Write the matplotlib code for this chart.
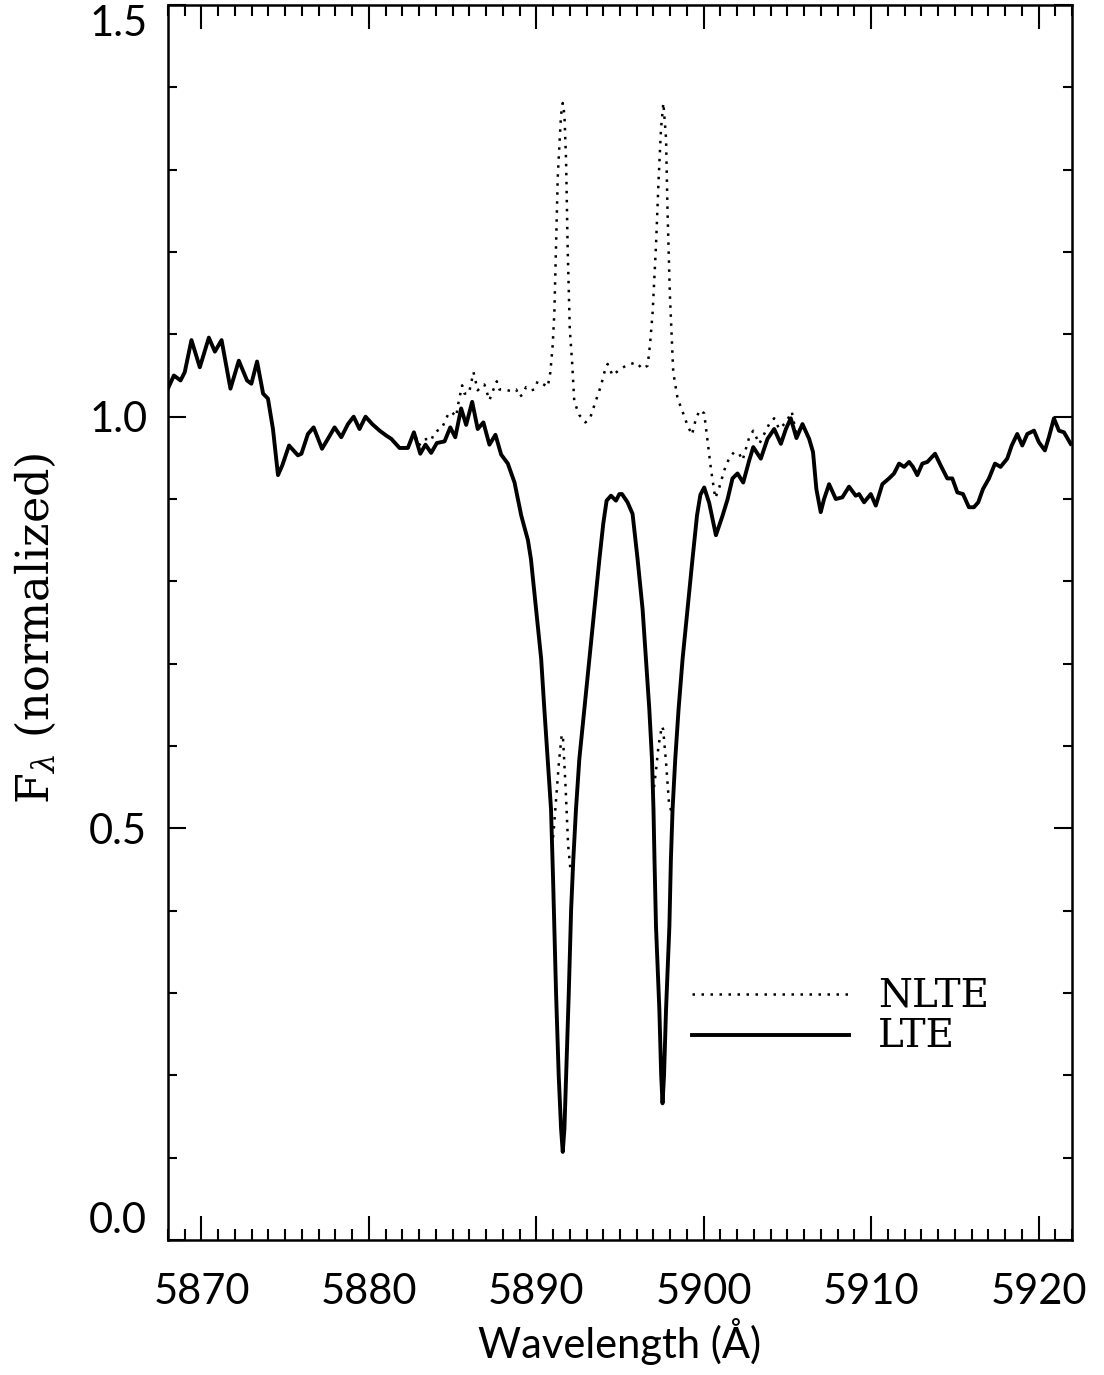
import numpy as np
import matplotlib
matplotlib.use("Agg")
import matplotlib.pyplot as plt
from matplotlib.ticker import MultipleLocator

# =============================================================================
# Data (wavelength in Angstrom, normalized flux)
# =============================================================================
lte_wave = [
    5867.95, 5868.35, 5868.75, 5869.0, 5869.4, 5869.9, 5870.44, 5870.8, 5871.2,
    5871.73, 5872.23, 5872.72, 5872.98, 5873.32, 5873.68, 5873.97, 5874.27,
    5874.57, 5874.83, 5875.23, 5875.76, 5875.97, 5876.36, 5876.7, 5877.2,
    5877.55, 5877.95, 5878.35, 5878.75, 5879.09, 5879.44, 5879.8, 5880.2,
    5880.64, 5881.04, 5881.34, 5881.83, 5882.33, 5882.69, 5883.07, 5883.38,
    5883.72, 5884.06, 5884.52, 5884.86, 5885.16, 5885.51, 5885.81, 5886.17,
    5886.5, 5886.84, 5887.2, 5887.56, 5887.9, 5888.3, 5888.7, 5889.1, 5889.5,
    5889.68, 5889.99, 5890.29, 5890.48, 5890.68, 5890.88, 5891.0, 5891.18,
    5891.34, 5891.48, 5891.58, 5891.68, 5891.78, 5891.94, 5892.08, 5892.21,
    5892.37, 5892.57, 5892.87, 5893.17, 5893.47, 5893.77, 5894.0, 5894.2,
    5894.46, 5894.76, 5894.96, 5895.12, 5895.45, 5895.75, 5896.05, 5896.35,
    5896.55, 5896.75, 5896.91, 5897.0, 5897.06, 5897.15, 5897.35, 5897.46,
    5897.54, 5897.63, 5897.75, 5897.95, 5898.04, 5898.14, 5898.3, 5898.5,
    5898.74, 5899.03, 5899.33, 5899.6, 5899.8, 5900.03, 5900.33, 5900.73,
    5901.13, 5901.43, 5901.72, 5902.02, 5902.36, 5902.72, 5902.96, 5903.41,
    5903.81, 5904.21, 5904.61, 5904.91, 5905.2, 5905.54, 5905.9, 5906.3,
    5906.53, 5906.73, 5906.99, 5907.19, 5907.49, 5907.89, 5908.28, 5908.68,
    5909.08, 5909.28, 5909.58, 5909.98, 5910.28, 5910.67, 5911.07, 5911.37,
    5911.67, 5911.97, 5912.27, 5912.5, 5912.76, 5913.06, 5913.36, 5913.82,
    5914.15, 5914.55, 5914.85, 5915.15, 5915.49, 5915.84, 5916.14, 5916.4,
    5916.68, 5917.04, 5917.4, 5917.73, 5918.13, 5918.4, 5918.73, 5919.03,
    5919.33, 5919.73, 5920.02, 5920.38, 5920.62, 5920.92, 5921.22, 5921.52,
    5921.92,
]
lte_flux = [
    1.032, 1.050, 1.044, 1.054, 1.093, 1.060, 1.096, 1.079, 1.093,
    1.034, 1.068, 1.044, 1.040, 1.067, 1.028, 1.022, 0.985,
    0.929, 0.941, 0.965, 0.953, 0.955, 0.979, 0.987, 0.961,
    0.973, 0.987, 0.975, 0.991, 1.000, 0.985, 1.000, 0.991,
    0.983, 0.977, 0.973, 0.962, 0.962, 0.981, 0.955, 0.966,
    0.956, 0.968, 0.970, 0.987, 0.975, 1.010, 0.990, 1.018,
    0.985, 0.993, 0.966, 0.978, 0.954, 0.943, 0.920, 0.880, 0.850,
    0.827, 0.766, 0.706, 0.645, 0.584, 0.523, 0.440, 0.300,
    0.199, 0.135, 0.107, 0.135, 0.199, 0.300, 0.401, 0.462,
    0.523, 0.584, 0.645, 0.706, 0.766, 0.827, 0.870, 0.898,
    0.904, 0.898, 0.906, 0.906, 0.896, 0.882, 0.827, 0.766,
    0.706, 0.645, 0.584, 0.523, 0.462, 0.381, 0.280, 0.200,
    0.166, 0.200, 0.280, 0.381, 0.462, 0.523, 0.584, 0.645,
    0.706, 0.766, 0.827, 0.880, 0.905, 0.914, 0.895, 0.856,
    0.880, 0.900, 0.925, 0.931, 0.920, 0.947, 0.963, 0.949,
    0.973, 0.985, 0.967, 0.985, 0.998, 0.974, 0.991, 0.973,
    0.957, 0.912, 0.884, 0.900, 0.918, 0.900, 0.902, 0.915,
    0.904, 0.906, 0.896, 0.906, 0.892, 0.918, 0.925, 0.931,
    0.943, 0.939, 0.945, 0.939, 0.929, 0.943, 0.945, 0.955,
    0.941, 0.925, 0.925, 0.908, 0.906, 0.890, 0.890, 0.896,
    0.912, 0.925, 0.943, 0.939, 0.949, 0.965, 0.979, 0.965,
    0.979, 0.983, 0.969, 0.959, 0.975, 0.998, 0.983, 0.981,
    0.967,
]

# NLTE profile where it departs from LTE (emission cores of the Na D lines)
nlte_wave = [
    5882.69, 5883.0, 5883.22, 5883.52, 5883.72, 5883.92, 5884.36, 5884.58,
    5884.78, 5884.98, 5885.21, 5885.37, 5885.57, 5885.71, 5885.97, 5886.25,
    5886.5, 5886.7, 5886.9, 5887.2, 5887.36, 5887.64, 5887.8, 5888.1, 5888.5,
    5888.8, 5888.99, 5889.19, 5889.39, 5889.69, 5889.89, 5890.08, 5890.38,
    5890.68, 5890.84, 5890.98, 5891.08, 5891.18, 5891.28, 5891.38, 5891.48,
    5891.58, 5891.68, 5891.78, 5891.87, 5892.0, 5892.14, 5892.27, 5892.57,
    5892.93, 5893.21, 5893.47, 5893.87, 5894.07, 5894.26, 5894.56, 5894.96,
    5895.36, 5895.95, 5896.35, 5896.65, 5896.79, 5896.95, 5897.15, 5897.31,
    5897.45, 5897.59, 5897.75, 5897.84, 5897.98, 5898.18, 5898.44, 5898.74,
    5899.04, 5899.3, 5899.54, 5899.77, 5900.03, 5900.23, 5900.43, 5900.69,
    5900.93, 5901.23, 5901.53, 5901.82, 5902.12, 5902.32, 5902.72, 5902.96,
    5903.32, 5903.91, 5904.21, 5904.51, 5904.91, 5905.26, 5905.54,
]
nlte_flux = [
    0.981, 0.965, 0.972, 0.973, 0.971, 0.981, 0.986, 0.996,
    1.005, 1.005, 1.000, 1.019, 1.038, 1.028, 1.028, 1.054,
    1.032, 1.036, 1.039, 1.020, 1.029, 1.043, 1.033, 1.033, 1.031,
    1.033, 1.024, 1.027, 1.036, 1.032, 1.033, 1.043, 1.040,
    1.036, 1.054, 1.087, 1.127, 1.208, 1.290, 1.330, 1.367,
    1.381, 1.367, 1.310, 1.208, 1.107, 1.066, 1.018, 1.002,
    0.993, 0.998, 1.014, 1.038, 1.054, 1.064, 1.050, 1.057,
    1.062, 1.066, 1.058, 1.062, 1.087, 1.127, 1.208, 1.290,
    1.350, 1.381, 1.338, 1.249, 1.148, 1.054, 1.022, 1.006,
    0.989, 0.978, 0.998, 1.008, 1.004, 0.970, 0.937, 0.901,
    0.914, 0.935, 0.950, 0.957, 0.955, 0.947, 0.975, 0.983,
    0.967, 0.991, 0.998, 0.985, 0.993, 1.006, 0.978,
]

# NLTE inside the absorption cores (self-reversed centres)
core1_wave = [5890.95, 5891.05, 5891.2, 5891.35, 5891.52, 5891.6, 5891.75, 5891.9, 5892.06]
core1_flux = [0.478, 0.50, 0.54, 0.58, 0.614, 0.608, 0.55, 0.48, 0.446]
core2_wave = [5897.03, 5897.15, 5897.3, 5897.5, 5897.58, 5897.75, 5897.94, 5898.1]
core2_flux = [0.55, 0.57, 0.60, 0.624, 0.62, 0.58, 0.527, 0.52]

# NLTE outside the emission window coincides with LTE
lte_wave_arr = np.array(lte_wave)
lte_flux_arr = np.array(lte_flux)
left = lte_wave_arr < nlte_wave[0]
right = lte_wave_arr > nlte_wave[-1]
nlte_full_wave = np.concatenate([lte_wave_arr[left], nlte_wave, lte_wave_arr[right]])
nlte_full_flux = np.concatenate([lte_flux_arr[left], nlte_flux, lte_flux_arr[right]])

# =============================================================================
# Plot
# =============================================================================
tick_family = "Lato"
serif_font = "DejaVu Serif"
plt.rcParams["mathtext.fontset"] = "dejavuserif"

fig = plt.figure(figsize=(11.04, 13.75), dpi=100)
ax = fig.add_axes([168 / 1104, 1 - 1240 / 1375, 904 / 1104, 1235 / 1375])

dots = (0, (1.0, 2.6))
ax.plot(nlte_full_wave, nlte_full_flux, color="black", lw=1.8, linestyle=dots)
ax.plot(core1_wave, core1_flux, color="black", lw=1.8, linestyle=dots)
ax.plot(core2_wave, core2_flux, color="black", lw=1.8, linestyle=dots)
ax.plot(lte_wave, lte_flux, color="black", lw=2.8, solid_joinstyle="round")

ax.set_xlim(5868, 5922)
ax.set_ylim(0.0, 1.5)

ax.xaxis.set_major_locator(MultipleLocator(10))
ax.xaxis.set_minor_locator(MultipleLocator(1))
ax.yaxis.set_major_locator(MultipleLocator(0.5))
ax.yaxis.set_minor_locator(MultipleLocator(0.1))
ax.yaxis.set_major_formatter(plt.FormatStrFormatter("%.1f"))

ax.tick_params(axis="both", which="both", direction="in", top=True, right=True, width=1.5)
ax.tick_params(axis="x", which="major", length=17, pad=24)
ax.tick_params(axis="x", which="minor", length=8)
ax.tick_params(axis="y", which="major", length=13, pad=15)
ax.tick_params(axis="y", which="minor", length=6.5)
for s in ax.spines.values():
    s.set_linewidth(1.8)

ax.set_xlabel("Wavelength (Å)", fontsize=30, family=tick_family)
ax.xaxis.set_label_coords(0.5, -0.063)
ax.set_ylabel(r"F$_\lambda$ (normalized)", fontsize=32, family=serif_font)
ax.yaxis.set_label_coords(-0.1217, 0.495)

# legend drawn by hand, as in the original
ax.plot([0.5796, 0.7533], [0.1992, 0.1992], transform=ax.transAxes,
        color="black", lw=1.8, linestyle=dots)
ax.plot([0.5796, 0.7533], [0.166, 0.166], transform=ax.transAxes,
        color="black", lw=2.8)
ax.text(0.7854, 0.1889, "NLTE", transform=ax.transAxes, fontsize=28,
        family=serif_font, va="baseline")
ax.text(0.7854, 0.156, "LTE", transform=ax.transAxes, fontsize=28,
        family=serif_font, va="baseline")

# tick label fonts; the end labels of the y axis sit inside the frame
fig.canvas.draw()
for tick in ax.xaxis.get_major_ticks() + ax.yaxis.get_major_ticks():
    tick.label1.set_fontfamily(tick_family)
    tick.label1.set_fontsize(30)
for tick in ax.yaxis.get_major_ticks():
    if abs(tick.get_loc() - 0.0) < 1e-6:
        tick.label1.set_verticalalignment("bottom")
    elif abs(tick.get_loc() - 1.5) < 1e-6:
        tick.label1.set_verticalalignment("top")

fig.savefig("out.png", dpi=100, facecolor="white")
